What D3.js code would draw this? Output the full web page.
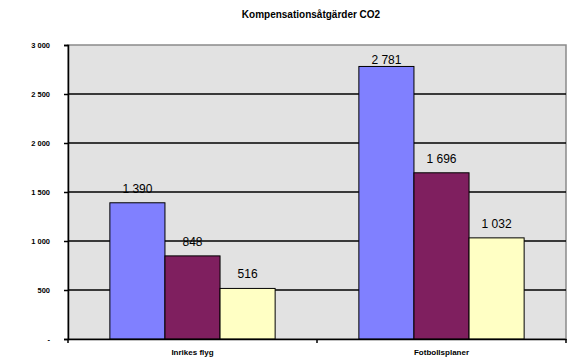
<!DOCTYPE html>
<html>
<head>
<meta charset="utf-8">
<script src="https://cdn.jsdelivr.net/npm/d3@7"></script>
<style>
  body { margin: 0; background: #fff; }
  text { font-family: "Liberation Sans", Arial, sans-serif; }
</style>
</head>
<body>
<svg id="chart" width="569" height="358"></svg>
<script>
const categories = ["Inrikes flyg", "Fotbollsplaner"];
const seriesNames = ["A", "B", "C"];
const values = [
  [1390, 848, 516],
  [2781, 1696, 1032]
];
const yTicks = [0, 500, 1000, 1500, 2000, 2500, 3000];
const yTickLabels = ["-", "500", "1 000", "1 500", "2 000", "2 500", "3 000"];
const colors = ["#8080ff", "#7f1f5f", "#ffffc4"];

const svg = d3.select("#chart");
const plotL = 68, plotR = 566, plotT = 45, plotB = 339;

const x = d3.scaleBand().domain(categories).range([plotL, plotR]).paddingInner(0).paddingOuter(0);
const x1 = d3.scaleBand().domain(seriesNames).range([0, x.bandwidth()]).paddingInner(0).paddingOuter(0.76);
const y = d3.scaleLinear().domain([0, 3000]).range([plotB, plotT]);

// plot background
svg.append("rect")
  .attr("x", plotL).attr("y", plotT)
  .attr("width", plotR - plotL).attr("height", plotB - plotT)
  .attr("fill", "#e2e2e2")
  .attr("stroke", "#8a8a8a").attr("stroke-width", 1.5);

// gridlines
svg.append("g")
  .selectAll("line")
  .data(yTicks.filter(d => d > 0 && d < 3000))
  .enter()
  .append("line")
  .attr("x1", plotL).attr("x2", plotR)
  .attr("y1", d => y(d)).attr("y2", d => y(d))
  .attr("stroke", "#000").attr("stroke-width", 1.4);

// y axis
const yAxis = svg.append("g")
  .attr("transform", `translate(${plotL},0)`)
  .call(d3.axisLeft(y).tickValues(yTicks).tickSize(4).tickPadding(14)
    .tickFormat((d, i) => yTickLabels[i]));
yAxis.select(".domain").attr("stroke", "#000").attr("stroke-width", 1.5);
yAxis.selectAll(".tick line").attr("stroke", "#000").attr("stroke-width", 1.5);
yAxis.selectAll("text").attr("font-size", 7.5).attr("font-weight", "bold").attr("fill", "#000");

// bars
const groups = svg.append("g")
  .selectAll("g")
  .data(values)
  .enter()
  .append("g")
  .attr("transform", (d, i) => `translate(${x(categories[i])},0)`);

groups.selectAll("rect")
  .data(d => d)
  .enter()
  .append("rect")
  .attr("x", (d, i) => x1(seriesNames[i]))
  .attr("y", d => y(d))
  .attr("width", x1.bandwidth())
  .attr("height", d => y(0) - y(d))
  .attr("fill", (d, i) => colors[i])
  .attr("stroke", "#000").attr("stroke-width", 1);

groups.selectAll("text")
  .data(d => d)
  .enter()
  .append("text")
  .attr("x", (d, i) => x1(seriesNames[i]) + x1.bandwidth() / 2)
  .attr("y", d => Math.max(y(d) - 10, plotT + 19))
  .attr("text-anchor", "middle")
  .attr("font-size", 12)
  .attr("fill", "#000")
  .text(d => d3.format(",")(d).replace(",", " "));

// x axis
const xAxis = svg.append("g")
  .attr("transform", `translate(0,${plotB})`)
  .call(d3.axisBottom(x).tickSize(0).tickPadding(10));
xAxis.select(".domain").attr("stroke", "#000").attr("stroke-width", 1.5);
xAxis.selectAll("text").attr("font-size", 8).attr("font-weight", "bold").attr("fill", "#000");
svg.append("g")
  .selectAll("line")
  .data([plotL, x(categories[1]), plotR])
  .enter()
  .append("line")
  .attr("x1", d => d).attr("x2", d => d)
  .attr("y1", plotB).attr("y2", plotB + 4)
  .attr("stroke", "#000").attr("stroke-width", 1.5);

// title
svg.append("text")
  .attr("x", 311).attr("y", 18)
  .attr("text-anchor", "middle")
  .attr("font-size", 10)
  .attr("font-weight", "bold")
  .text("Kompensationsåtgärder CO2");
</script>
</body>
</html>
